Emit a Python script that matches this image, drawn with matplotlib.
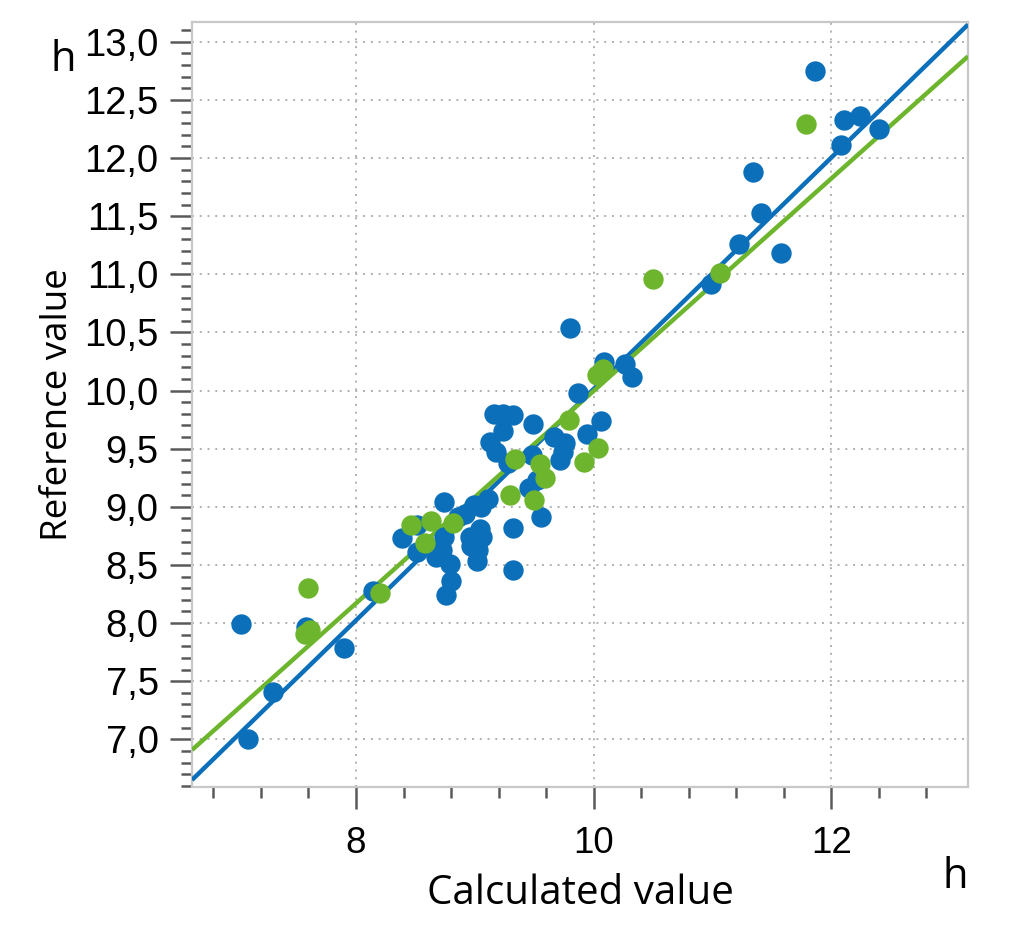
import matplotlib
matplotlib.use("Agg")
import matplotlib.pyplot as plt
import numpy as np
from matplotlib.ticker import MultipleLocator, FixedLocator, FuncFormatter

# ---- data ----
blue_x = [7.03, 7.58, 7.90, 7.30, 7.09, 8.14, 9.16, 9.24, 9.32, 9.49, 9.24, 9.13, 9.18,
          9.28, 9.48, 9.52, 9.46, 9.56, 8.74, 9.11, 8.99, 8.92, 8.86, 8.51, 8.39, 8.51,
          8.74, 8.72, 8.67, 9.04, 8.96, 9.06, 8.97, 9.03, 9.02, 9.05, 8.79, 8.80, 8.76,
          9.32, 9.32, 9.80, 10.09, 10.26, 10.32, 9.87, 10.06, 9.94, 9.67, 9.76, 9.74,
          9.72, 11.86, 12.11, 12.24, 12.40, 12.08, 11.34, 11.41, 11.22, 11.58, 10.99]
blue_y = [7.99, 7.97, 7.79, 7.41, 7.00, 8.28, 9.80, 9.80, 9.79, 9.71, 9.65, 9.56, 9.47,
          9.38, 9.45, 9.23, 9.16, 8.91, 9.04, 9.07, 9.02, 8.94, 8.91, 8.84, 8.73, 8.61,
          8.74, 8.63, 8.57, 8.81, 8.74, 8.74, 8.66, 8.63, 8.53, 9.00, 8.51, 8.36, 8.24,
          8.82, 8.46, 10.54, 10.25, 10.23, 10.12, 9.98, 9.74, 9.63, 9.60, 9.55, 9.47,
          9.40, 12.75, 12.33, 12.36, 12.25, 12.11, 11.88, 11.53, 11.26, 11.18, 10.92]

green_x = [7.60, 7.57, 7.61, 8.20, 8.46, 8.63, 8.58, 8.82, 9.30, 9.50, 9.34, 9.55, 9.59,
           9.79, 10.04, 9.92, 10.03, 10.08, 10.50, 11.06, 11.79]
green_y = [8.30, 7.91, 7.94, 8.26, 8.84, 8.88, 8.69, 8.86, 9.10, 9.06, 9.41, 9.37, 9.25,
           9.75, 9.51, 9.39, 10.13, 10.19, 10.96, 11.01, 12.29]

# regression lines (slope, intercept)
blue_fit = (0.995, 0.064)
green_fit = (0.9136, 0.861)

x_major = [8, 10, 12]
y_major = [7.0, 7.5, 8.0, 8.5, 9.0, 9.5, 10.0, 10.5, 11.0, 11.5, 12.0, 12.5, 13.0]

BLUE = "#0b6fba"
GREEN = "#6cb52d"

fig = plt.figure(figsize=(10.24, 9.42), dpi=100)
ax = fig.add_axes([0.1875, 0.1645, 0.9453 - 0.1875, 0.9766 - 0.1645])

xlim = (6.62, 13.15)
ylim = (6.59, 13.17)
ax.set_xlim(*xlim)
ax.set_ylim(*ylim)

xs = np.array(xlim)
ax.plot(xs, blue_fit[0] * xs + blue_fit[1], color=BLUE, lw=3.2, zorder=3, solid_capstyle="butt")
ax.plot(xs, green_fit[0] * xs + green_fit[1], color=GREEN, lw=3.2, zorder=3, solid_capstyle="butt")

ax.scatter(blue_x, blue_y, s=215, color=BLUE, linewidths=0, zorder=4)
ax.scatter(green_x, green_y, s=215, color=GREEN, linewidths=0, zorder=5)

# ticks
ax.xaxis.set_major_locator(FixedLocator(x_major))
ax.xaxis.set_minor_locator(MultipleLocator(0.4))
ax.yaxis.set_major_locator(FixedLocator(y_major))
ax.yaxis.set_minor_locator(MultipleLocator(0.1))
ax.yaxis.set_major_formatter(FuncFormatter(lambda v, p: f"{v:.1f}".replace(".", ",")))
ax.xaxis.set_major_formatter(FuncFormatter(lambda v, p: f"{v:.0f}"))

tick_col = "#5a5a5a"
ax.tick_params(axis="both", which="major", length=16, width=1.8, color=tick_col, direction="out")
ax.tick_params(axis="both", which="minor", length=8, width=1.8, color=tick_col, direction="out")
ax.tick_params(axis="y", which="major", labelsize=27.5, pad=8, labelfontfamily="Liberation Sans")
ax.tick_params(axis="x", which="major", labelsize=26.5, pad=12, labelfontfamily="Liberation Sans")

for sp in ax.spines.values():
    sp.set_color("#c8c8c8")
    sp.set_linewidth(1.6)

ax.grid(True, which="major", color="#b0b0b0", linestyle=(0, (1, 3)), linewidth=1.4, zorder=0)
ax.set_axisbelow(True)

lab_font = "Open Sans"
ax.set_xlabel("Calculated value", fontsize=29, family=lab_font, labelpad=9)
ax.set_ylabel("Reference value", fontsize=26.5, family=lab_font, labelpad=6)

fig.text(63 / 1024, 1 - 71 / 942, "h", fontsize=30, family=lab_font, ha="center", va="baseline")
fig.text(955 / 1024, 1 - 888 / 942, "h", fontsize=30, family=lab_font, ha="center", va="baseline")

fig.savefig("out.png", dpi=100)
